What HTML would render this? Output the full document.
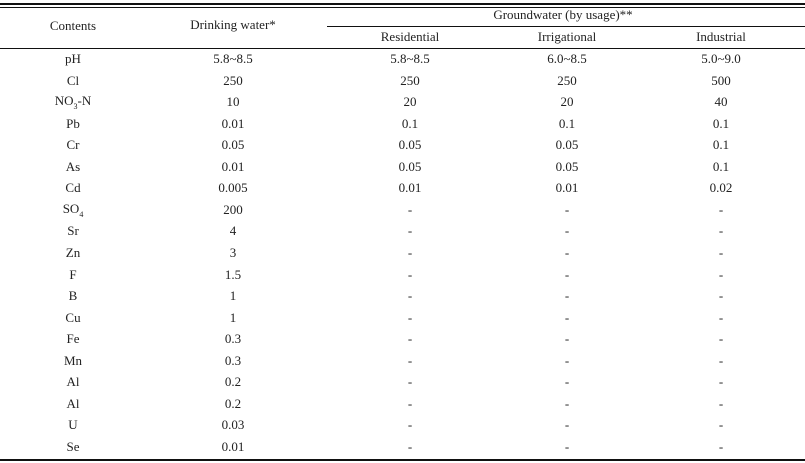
<!DOCTYPE html>
<html><head><meta charset="utf-8"><style>
body{margin:0;width:805px;height:463px;background:#fff;position:relative;overflow:hidden;font-family:"Liberation Serif",serif;font-size:13px;color:#222}
.l{position:absolute;background:#111;height:1px}
.t{position:absolute;transform:translate(-50%,-50%);white-space:nowrap}
</style></head><body>
<div class="l" style="left:0;width:805px;top:3px;height:2px"></div>
<div class="l" style="left:0;width:805px;top:7px"></div>
<div class="l" style="left:327px;width:478px;top:26px"></div>
<div class="l" style="left:0;width:805px;top:48px"></div>
<div class="l" style="left:0;width:805px;top:459px;height:2px"></div>
<div class="t" style="left:73px;top:26px">Contents</div>
<div class="t" style="left:233px;top:25px">Drinking water*</div>
<div class="t" style="left:563px;top:15px">Groundwater (by usage)**</div>
<div class="t" style="left:410px;top:37px">Residential</div>
<div class="t" style="left:567px;top:37px">Irrigational</div>
<div class="t" style="left:721px;top:37px">Industrial</div>
<div id="rows"></div>
<script>
var d=[["pH","5.8~8.5","5.8~8.5","6.0~8.5","5.0~9.0"],["Cl","250","250","250","500"],["NO<sub style='font-size:8px'>3</sub>-N","10","20","20","40"],["Pb","0.01","0.1","0.1","0.1"],["Cr","0.05","0.05","0.05","0.1"],["As","0.01","0.05","0.05","0.1"],["Cd","0.005","0.01","0.01","0.02"],["SO<sub style='font-size:8px'>4</sub>","200","-","-","-"],["Sr","4","-","-","-"],["Zn","3","-","-","-"],["F","1.5","-","-","-"],["B","1","-","-","-"],["Cu","1","-","-","-"],["Fe","0.3","-","-","-"],["Mn","0.3","-","-","-"],["Al","0.2","-","-","-"],["Al","0.2","-","-","-"],["U","0.03","-","-","-"],["Se","0.01","-","-","-"]];
var x=[73,233,410,567,721],h="";
d.forEach(function(r,i){var y=59+i*21.55;r.forEach(function(c,j){h+='<div class="t" style="left:'+x[j]+'px;top:'+y+'px">'+c+'</div>';});});
document.getElementById("rows").innerHTML=h;
</script>
</body></html>
